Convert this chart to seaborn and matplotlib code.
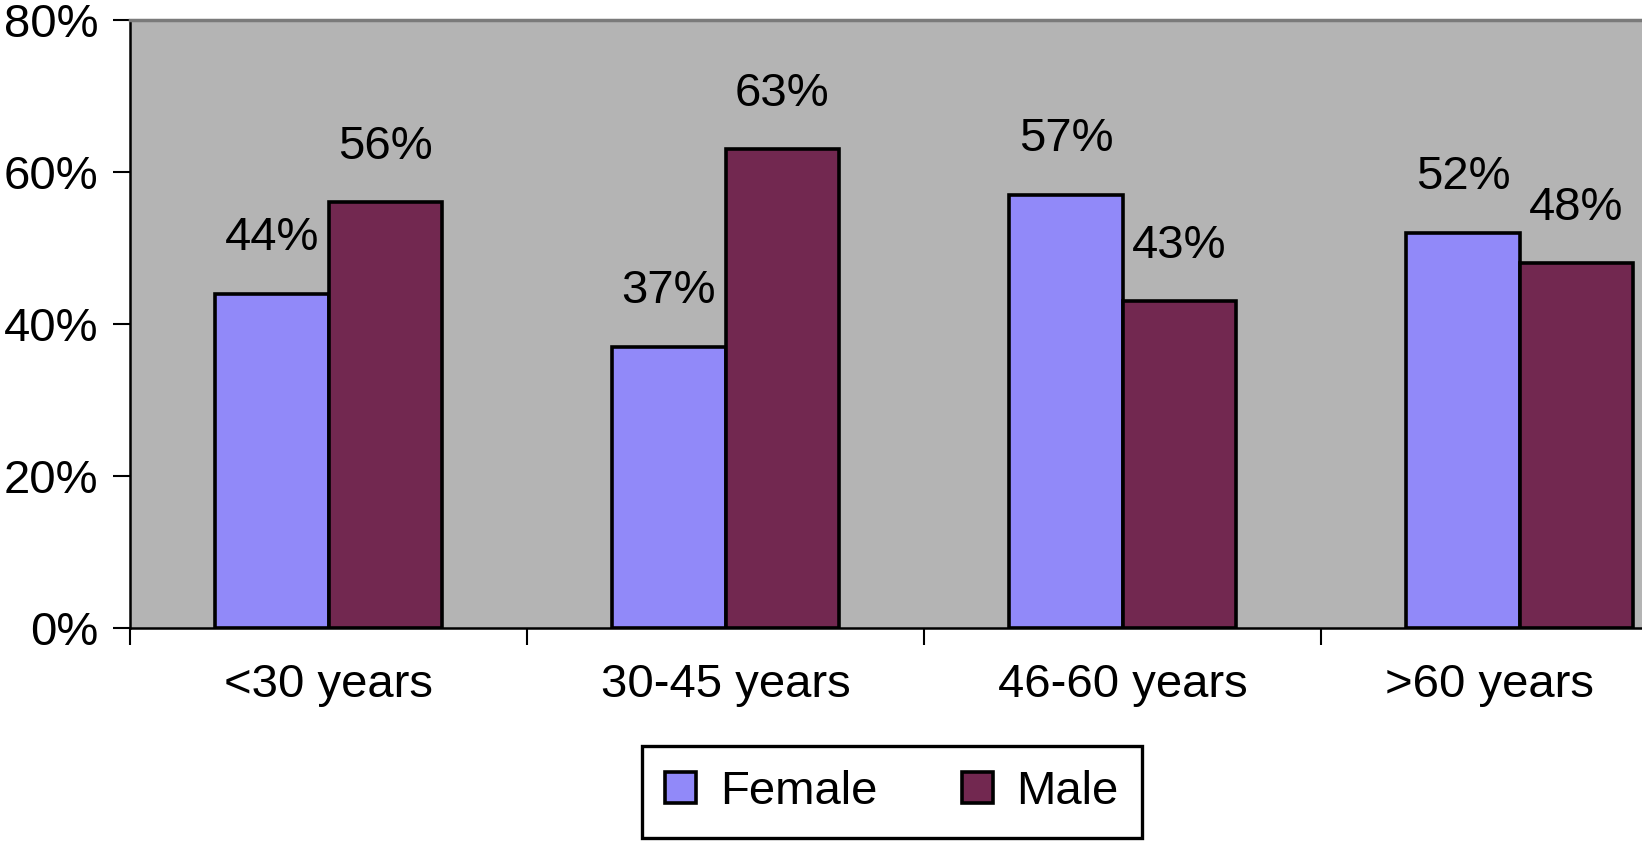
import pandas as pd
import matplotlib.pyplot as plt
import matplotlib.transforms as mtransforms
import seaborn as sns

# data
age_groups = ["<30 years", "30-45 years", "46-60 years", ">60 years"]
female_pct = [44, 37, 57, 52]
male_pct = [56, 63, 43, 48]
y_ticks = [0, 20, 40, 60, 80]

FEMALE_COLOR = "#9189f9"
MALE_COLOR = "#722850"
BG_COLOR = "#b4b4b4"
FS = 34


def main():
    df = pd.DataFrame({
        "age": age_groups * 2,
        "pct": female_pct + male_pct,
        "sex": ["Female"] * len(age_groups) + ["Male"] * len(age_groups),
    })

    sns.set_theme(style="white")
    plt.rcParams['font.family'] = ['Liberation Sans', 'DejaVu Sans']
    plt.rcParams['text.color'] = 'black'
    plt.rcParams['xtick.color'] = 'black'
    plt.rcParams['ytick.color'] = 'black'

    W, H = 1642, 841
    fig = plt.figure(figsize=(W / 100, H / 100), dpi=100)
    # plot area runs past the right edge, as in the cropped original
    ax = fig.add_axes([130 / W, (H - 628) / H, (1718 - 130) / W, 608 / H])
    ax.set_facecolor(BG_COLOR)

    sns.barplot(data=df, x="age", y="pct", hue="sex", ax=ax,
                palette=[FEMALE_COLOR, MALE_COLOR], width=0.57, gap=0,
                edgecolor="black", linewidth=2.6, saturation=1, legend=True)

    for cont in ax.containers:
        ax.bar_label(cont, fmt="%.0f%%", padding=24, fontsize=FS, color="black")

    ax.set_ylim(0, 80)
    ax.set_yticks(y_ticks)
    ax.set_yticklabels([f"{v}%" for v in y_ticks], fontsize=FS)
    ax.tick_params(axis="y", direction="out", length=12, width=1.5,
                   pad=11, left=True, color="black", labelcolor="black")

    ax.set_xlim(-0.5, len(age_groups) - 0.5)
    ax.set_xticks([i - 0.5 for i in range(len(age_groups) + 1)])
    ax.set_xticklabels([])
    ax.set_xticks(range(len(age_groups)), minor=True)
    ax.set_xticklabels(age_groups, minor=True, fontsize=FS)
    ax.tick_params(axis="x", which="major", direction="out", length=12,
                   width=1.5, bottom=True, color="black")
    ax.tick_params(axis="x", which="minor", length=0, pad=25,
                   labelcolor="black")

    # last category label sits a little left in the original (kept inside the image)
    last = ax.get_xticklabels(minor=True)[-1]
    last.set_transform(last.get_transform() +
                       mtransforms.ScaledTranslation(-0.3, 0, fig.dpi_scale_trans))

    ax.set_xlabel("")
    ax.set_ylabel("")

    for side in ["left", "bottom"]:
        ax.spines[side].set_color("black")
        ax.spines[side].set_linewidth(1.8)
    ax.spines["top"].set_color("#7a7a7a")
    ax.spines["top"].set_linewidth(2.5)
    ax.spines["right"].set_visible(False)

    handles, labels = ax.get_legend_handles_labels()
    ax.get_legend().remove()
    leg = fig.legend(handles, labels, loc="center",
                     bbox_to_anchor=(892 / W, (H - 792) / H), ncol=2,
                     fontsize=FS, frameon=True, fancybox=False,
                     edgecolor="black", framealpha=1, handlelength=0.65,
                     handleheight=0.65, handletextpad=0.5, columnspacing=1.8,
                     borderpad=0.5, borderaxespad=0)
    leg.get_frame().set_linewidth(2.4)
    for t in leg.get_texts():
        t.set_color("black")

    fig.savefig("out.png", dpi=100)


if __name__ == "__main__":
    main()
